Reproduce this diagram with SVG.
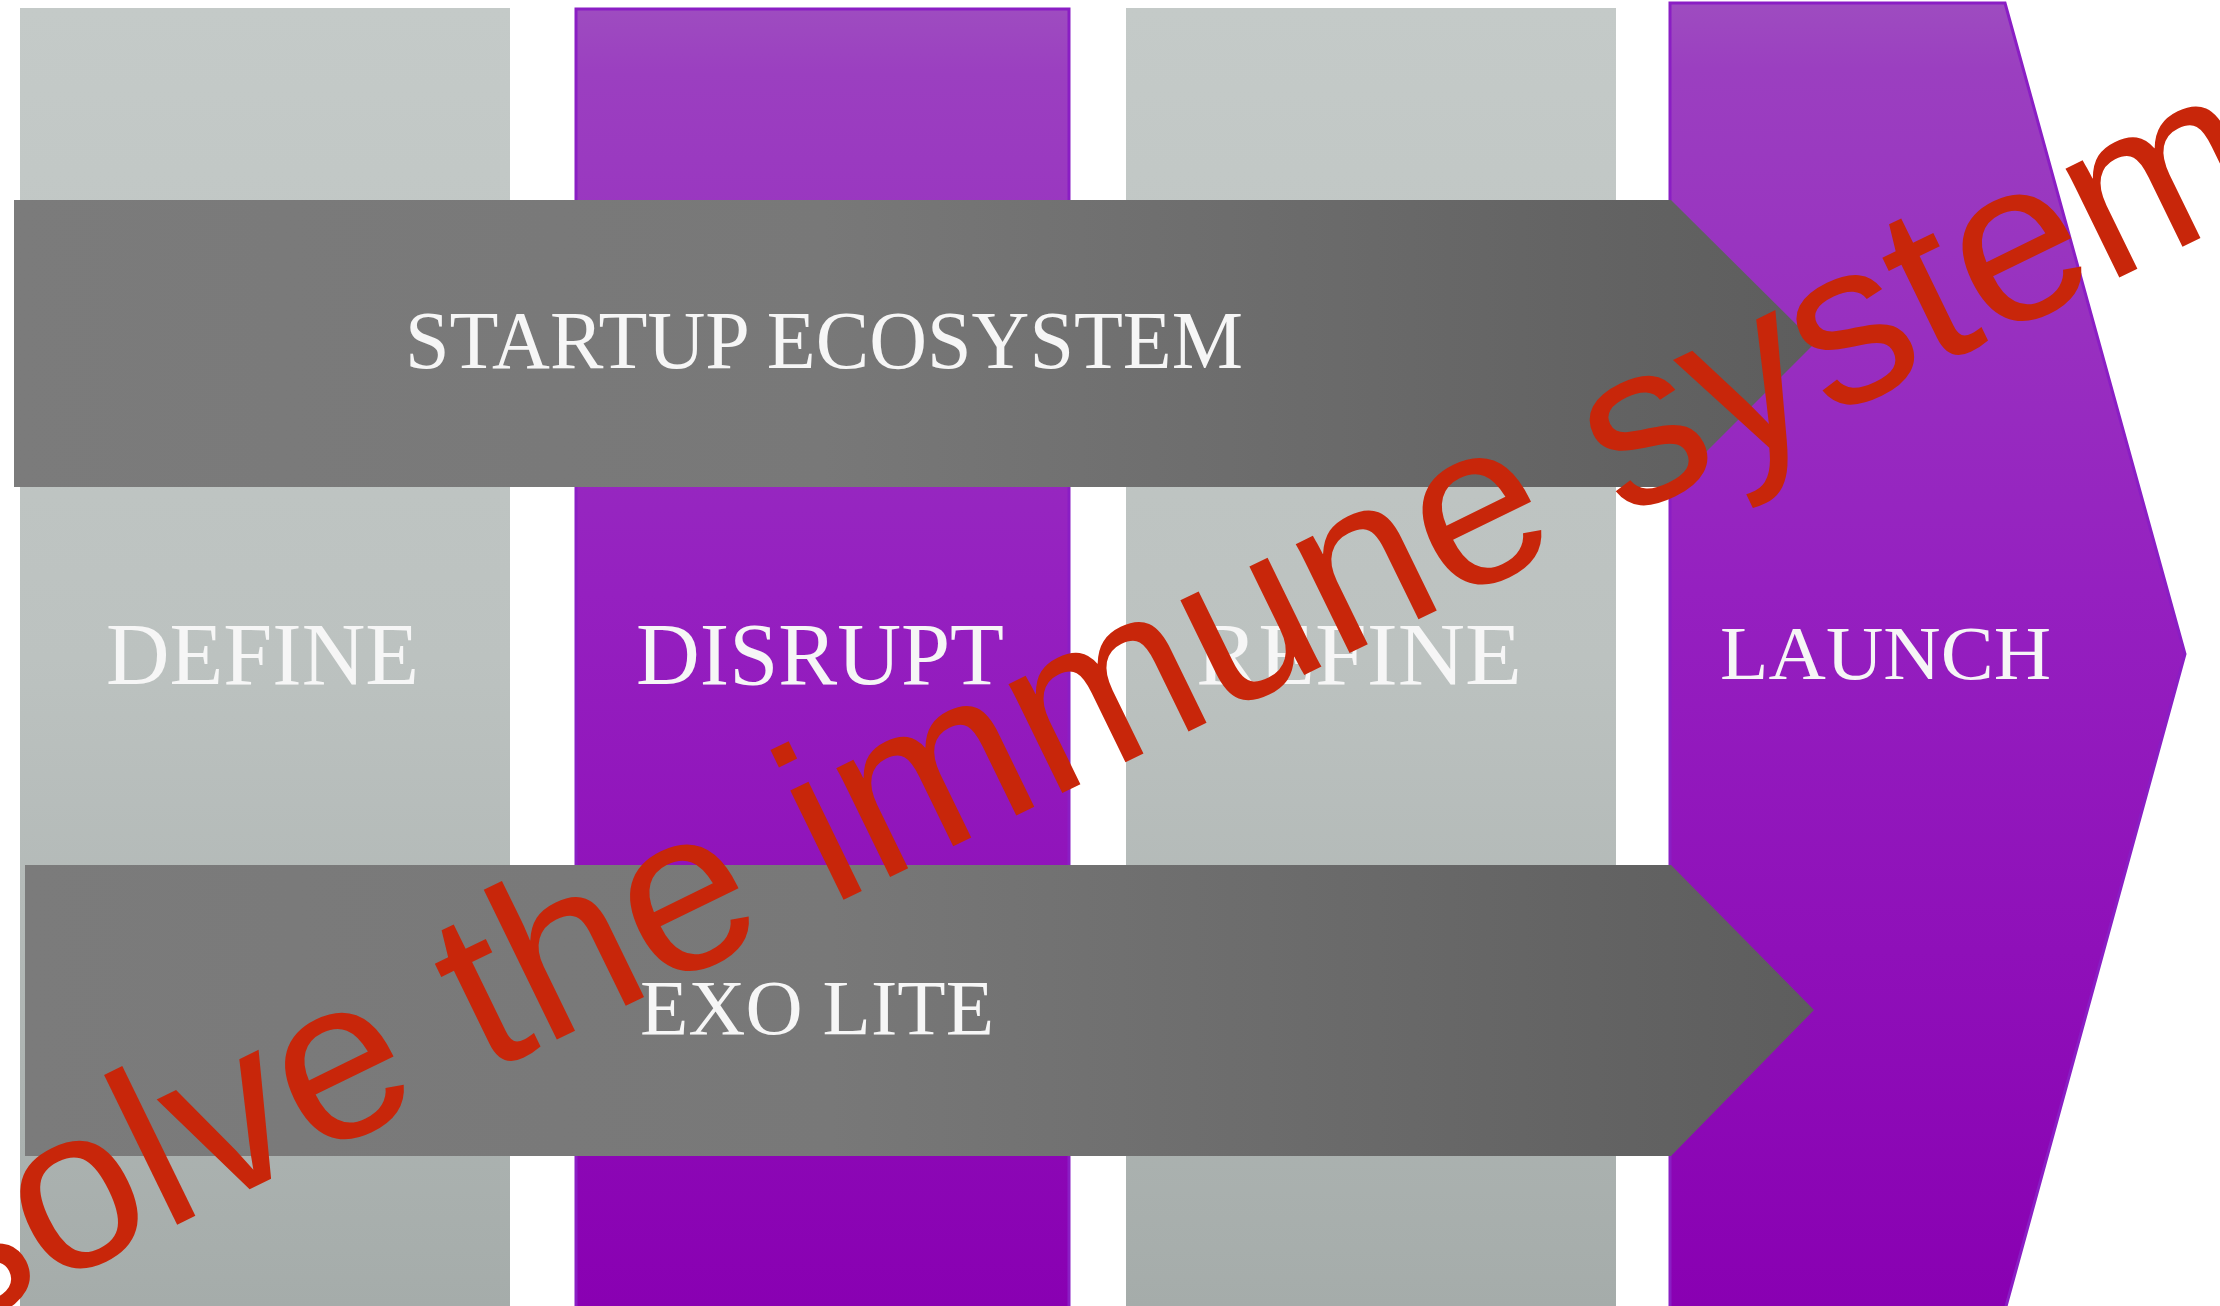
<svg xmlns="http://www.w3.org/2000/svg" width="2220" height="1306" viewBox="0 0 2220 1306">
  <defs>
    <linearGradient id="gGray" x1="0" y1="0" x2="0" y2="1">
      <stop offset="0" stop-color="#c4cac8"/>
      <stop offset="0.5" stop-color="#bcc2c0"/>
      <stop offset="1" stop-color="#a5acaa"/>
    </linearGradient>
    <linearGradient id="gPurple" x1="0" y1="0" x2="0" y2="1">
      <stop offset="0" stop-color="#9e4cc0"/>
      <stop offset="0.05" stop-color="#9b3fc0"/>
      <stop offset="0.45" stop-color="#9520c0"/>
      <stop offset="1" stop-color="#8900b2"/>
    </linearGradient>
    <linearGradient id="gBand" x1="0" y1="0" x2="1" y2="0">
      <stop offset="0" stop-color="#7b7b7b"/>
      <stop offset="0.45" stop-color="#787878"/>
      <stop offset="1" stop-color="#5d5d5d"/>
    </linearGradient>
    <filter id="soft" x="-5%" y="-5%" width="110%" height="110%">
      <feGaussianBlur stdDeviation="1.5"/>
    </filter>
  </defs>
  <style>
    .gray { fill: url(#gGray); }
    .purple { fill: url(#gPurple); stroke: #8a1ec4; stroke-width: 3; }
    .band { fill: url(#gBand); }
    .lbl { font-family: "Liberation Serif", "Times New Roman", serif; fill: #f6f6f6; }
    .wm { font-family: "Liberation Sans", Arial, sans-serif; fill: #c8260a; font-size: 230px; }
  </style>
  <rect width="2220" height="1306" fill="#ffffff"/>

  <g id="col-define">
    <rect class="gray" x="20" y="8" width="490" height="1298"/>
    <text class="lbl" x="106" y="684" font-size="89" textLength="313" lengthAdjust="spacingAndGlyphs">DEFINE</text>
  </g>
  <g id="col-disrupt">
    <rect class="purple" x="576" y="9" width="493" height="1300"/>
    <text class="lbl" x="636" y="684" font-size="89" textLength="368" lengthAdjust="spacingAndGlyphs">DISRUPT</text>
  </g>
  <g id="col-refine">
    <rect class="gray" x="1126" y="8" width="490" height="1298"/>
    <text class="lbl" x="1196" y="684" font-size="89" textLength="326" lengthAdjust="spacingAndGlyphs">REFINE</text>
  </g>
  <g id="col-launch">
    <polygon class="purple" points="1670,3 2005,3 2185,654 2005,1310 1670,1310"/>
    <text class="lbl" x="1720" y="679" font-size="76" textLength="331" lengthAdjust="spacingAndGlyphs">LAUNCH</text>
  </g>

  <g id="band-startup">
    <polygon class="band" points="14,200 1671,200 1815,343 1671,487 14,487"/>
    <text class="lbl" x="405" y="368" font-size="83" textLength="838" lengthAdjust="spacingAndGlyphs">STARTUP ECOSYSTEM</text>
  </g>
  <g id="band-exolite">
    <polygon class="band" points="25,865 1671,865 1814,1010 1671,1156 25,1156"/>
    <text class="lbl" x="640" y="1034" font-size="79" textLength="354" lengthAdjust="spacingAndGlyphs">EXO LITE</text>
  </g>

  <g id="watermark">
    <text class="wm" x="-55" y="1338" transform="rotate(-26 -55 1338)">solve the immune system</text>
  </g>
</svg>
